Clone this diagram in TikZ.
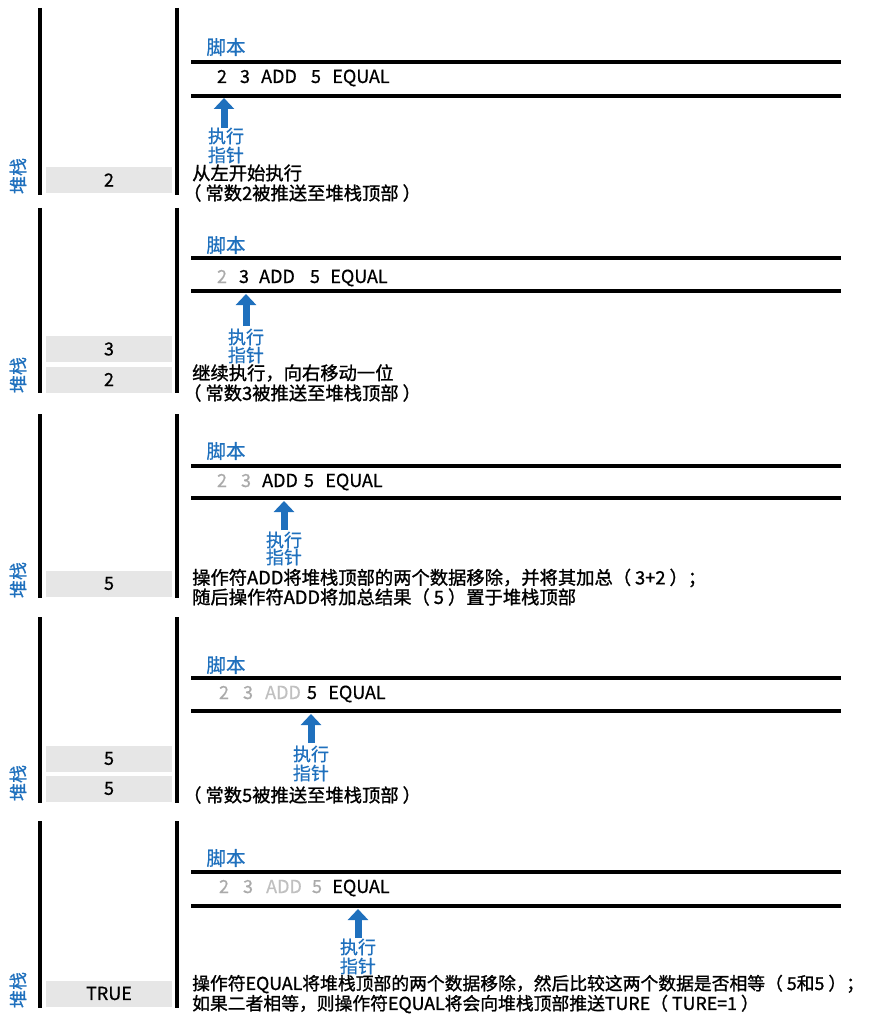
\documentclass[tikz,border=0pt]{standalone}
\usepackage{fontspec}
\setmainfont{Noto Sans CJK SC}
\newfontfamily\heavycjk{Noto Sans CJK SC}[FakeBold=1.2]
\newfontfamily\midcjk{Noto Sans CJK SC}[FakeBold=0.7]
\usetikzlibrary{arrows.meta}
\definecolor{pblue}{HTML}{1F70BD}
\definecolor{cellgray}{HTML}{E6E6E6}
\definecolor{donegray}{HTML}{AAAAAA}
\definecolor{donegrayB}{HTML}{C0C0C0}
\newcommand{\lpar}{（\hspace{4pt}}
\newcommand{\rpar}{\hspace{4pt}）}
\tikzset{
  vbar/.style={line width=4.5pt, black},
  hrule/.style={line width=4.5pt, black},
  label/.style={text=pblue, font=\midcjk\fontsize{19.5}{19.5}\selectfont, inner sep=0pt},
  stacklabel/.style={text=pblue, font=\midcjk\fontsize{18}{18}\selectfont, inner sep=0pt, rotate=90},
  tok/.style={font=\midcjk\fontsize{18}{18}\selectfont, inner sep=0pt, anchor=base},
  tokdone/.style={tok, text=donegray},
  tokdoneB/.style={tok, text=donegrayB},
  ptrtext/.style={text=pblue, font=\midcjk\fontsize{18}{18}\selectfont, inner sep=0pt, align=center},
  desc/.style={font=\heavycjk\fontsize{18.3}{18.3}\selectfont, inner sep=0pt, anchor=west},
  desclong/.style={desc, font=\heavycjk\fontsize{17.8}{17.8}\selectfont},
  cell/.style={fill=cellgray, minimum width=126pt, minimum height=26pt, inner sep=0pt, font=\midcjk\fontsize{18}{18}\selectfont},
  ptr/.style={line width=7pt, pblue, -{Triangle[width=20pt,length=11pt]}}
}
\begin{document}
\begin{tikzpicture}[x=1pt,y=-1pt]
\useasboundingbox (0,0) rectangle (875,1016);

% ---------- Panel 1 ----------
\draw[vbar] (40,8) -- (40,195);
\draw[vbar] (177,8) -- (177,195);
\node[label] (s1) at (226,47) {脚本};
\draw[hrule] (191,62) -- (841,62);
\draw[hrule] (191,96) -- (841,96);
\node[tok] (a1) at (222,83) {2};
\node[tok] (b1) at (245,83) {3};
\node[tok] (c1) at (279,83) {ADD};
\node[tok] (d1) at (316,83) {5};
\node[tok] (e1) at (361,83) {EQUAL};
\coordinate (tip1) at (224,98);
\coordinate (tail1) at (224,128);
\draw[ptr] (tail1) -- (tip1);
\node[ptrtext] (x1) at (226,136) {执行};
\node[ptrtext] (y1) at (226,155) {指针};
\node[cell] (k1a) at (109,180) {2};
\node[stacklabel] (st1) at (18,176) {堆栈};
\node[desc] (m1) at (192,173) {从左开始执行};
\node[desc] (n1) at (183,193) {\lpar 常数2被推送至堆栈顶部\rpar};

% ---------- Panel 2 ----------
\draw[vbar] (40,208) -- (40,393);
\draw[vbar] (177,208) -- (177,393);
\node[label] (s2) at (226,245) {脚本};
\draw[hrule] (191,258) -- (841,258);
\draw[hrule] (191,291) -- (841,291);
\node[tokdone] (a2) at (222,283) {2};
\node[tok] (b2) at (244,283) {3};
\node[tok] (c2) at (277,283) {ADD};
\node[tok] (d2) at (315,283) {5};
\node[tok] (e2) at (359,283) {EQUAL};
\coordinate (tip2) at (246,294);
\coordinate (tail2) at (246,326);
\draw[ptr] (tail2) -- (tip2);
\node[ptrtext] (x2) at (246,337) {执行};
\node[ptrtext] (y2) at (246,355) {指针};
\node[cell] (k2a) at (109,349) {3};
\node[cell] (k2b) at (109,379.5) {2};
\node[stacklabel] (st2) at (18,375) {堆栈};
\node[desc] (m2) at (192,373) {继续执行，向右移动一位};
\node[desc] (n2) at (183,393) {\lpar 常数3被推送至堆栈顶部\rpar};

% ---------- Panel 3 ----------
\draw[vbar] (40,414) -- (40,598);
\draw[vbar] (177,414) -- (177,598);
\node[label] (s3) at (226,451) {脚本};
\draw[hrule] (191,466) -- (841,466);
\draw[hrule] (191,498) -- (841,498);
\node[tokdone] (a3) at (222,487) {2};
\node[tokdone] (b3) at (246,487) {3};
\node[tok] (c3) at (280,487) {ADD};
\node[tok] (d3) at (309,487) {5};
\node[tok] (e3) at (354,487) {EQUAL};
\coordinate (tip3) at (284,501);
\coordinate (tail3) at (284,530);
\draw[ptr] (tail3) -- (tip3);
\node[ptrtext] (x3) at (284,540) {执行};
\node[ptrtext] (y3) at (284,557) {指针};
\node[cell] (k3a) at (109,583.5) {5};
\node[stacklabel] (st3) at (18,580) {堆栈};
\node[desc] (m3) at (192,578) {操作符ADD将堆栈顶部的两个数据移除，并将其加总\lpar 3+2\rpar ；};
\node[desc] (n3) at (192,597) {随后操作符ADD将加总结果\lpar 5\rpar 置于堆栈顶部};

% ---------- Panel 4 ----------
\draw[vbar] (40,617) -- (40,803);
\draw[vbar] (177,617) -- (177,803);
\node[label] (s4) at (226,665) {脚本};
\draw[hrule] (191,678) -- (841,678);
\draw[hrule] (191,711) -- (841,711);
\node[tokdone] (a4) at (224,699) {2};
\node[tokdone] (b4) at (248,699) {3};
\node[tokdoneB] (c4) at (283,699) {ADD};
\node[tok] (d4) at (312,699) {5};
\node[tok] (e4) at (357,699) {EQUAL};
\coordinate (tip4) at (311,714);
\coordinate (tail4) at (311,743);
\draw[ptr] (tail4) -- (tip4);
\node[ptrtext] (x4) at (311,754) {执行};
\node[ptrtext] (y4) at (311,773) {指针};
\node[cell] (k4a) at (109,758.5) {5};
\node[cell] (k4b) at (109,788.5) {5};
\node[stacklabel] (st4) at (18,783) {堆栈};
\node[desc] (n4) at (183,795) {\lpar 常数5被推送至堆栈顶部\rpar};

% ---------- Panel 5 ----------
\draw[vbar] (40,821) -- (40,1008);
\draw[vbar] (177,821) -- (177,1008);
\node[label] (s5) at (226,858) {脚本};
\draw[hrule] (191,872) -- (841,872);
\draw[hrule] (191,906) -- (841,906);
\node[tokdone] (a5) at (224,893) {2};
\node[tokdone] (b5) at (248,893) {3};
\node[tokdoneB] (c5) at (284,893) {ADD};
\node[tokdone] (d5) at (317,893) {5};
\node[tok] (e5) at (361,893) {EQUAL};
\coordinate (tip5) at (358,909);
\coordinate (tail5) at (358,938);
\draw[ptr] (tail5) -- (tip5);
\node[ptrtext] (x5) at (358,947) {执行};
\node[ptrtext] (y5) at (358,966) {指针};
\node[cell] (k5a) at (109,993.5) {TRUE};
\node[stacklabel] (st5) at (18,990) {堆栈};
\node[desclong] (m5) at (192,984) {操作符EQUAL将堆栈顶部的两个数据移除，然后比较这两个数据是否相等\lpar 5和5\rpar ；};
\node[desclong] (n5) at (192,1004) {如果二者相等，则操作符EQUAL将会向堆栈顶部推送TURE\lpar TURE=1\rpar};
\end{tikzpicture}
\end{document}
